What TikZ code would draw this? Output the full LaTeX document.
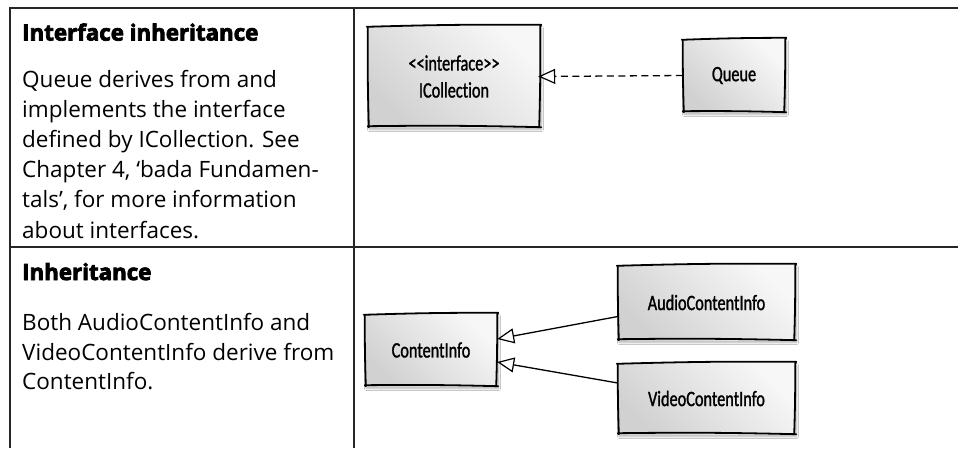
\documentclass[tikz,border=0pt]{standalone}
\usepackage{fontspec}
\setmainfont{Open Sans}
\newfontfamily\headfont[FakeBold=3.5]{Open Sans}
\newfontfamily\handfont[FakeStretch=0.74, FakeBold=1.2, Ligatures=NoCommon]{Carlito}
\usetikzlibrary{arrows.meta,shadows.blur}

\tikzset{
  rule/.style={draw=black!85, line width=2pt},
  head/.style={font=\headfont\bfseries\fontsize{22.3}{26}\selectfont, inner sep=0pt, anchor=base west},
  body/.style={font=\fontsize{22.5}{26}\selectfont, inner sep=0pt, anchor=base west},
  umlbox/.style={
    draw=none, shape=rectangle, inner sep=0pt,
    left color=black!18, right color=black!3, shading angle=135,
    blur shadow={shadow xshift=1.5pt, shadow yshift=-2.5pt, shadow opacity=30,
                 shadow blur steps=6, shadow blur radius=2pt},
    font=\handfont\fontsize{22}{27}\selectfont, align=center},
  sketch/.style={draw=black, line width=1.8pt, line join=round, line cap=round},
  link/.style={draw=black, line width=1.3pt},
  realize/.style={link, dash pattern=on 7pt off 4.5pt,
    -{Triangle[open, length=17pt, width=15pt, fill=white, line width=1.2pt]}},
  inherit/.style={link,
    -{Triangle[open, length=17pt, width=15pt, fill=white, line width=1.2pt]}},
}

% slightly wobbly hand-drawn outline around a named node
\newcommand\sketchoutline[1]{%
  \draw[sketch]
    ([shift={(-1,1)}]#1.north west) to[bend left=1]
    ([shift={(1,-1)}]#1.north east) --
    ([shift={(0,1)}]#1.north east) to[bend left=1]
    ([shift={(-1,0)}]#1.south east) --
    ([shift={(1,0)}]#1.south east) to[bend right=1]
    ([shift={(0,-1)}]#1.south west) --
    ([shift={(1,0)}]#1.south west) to[bend left=1]
    ([shift={(0,1)}]#1.north west);}

\begin{document}
\begin{tikzpicture}[x=1pt, y=-1pt]
\useasboundingbox (0,0) rectangle (958,448);
\fill[white] (0,0) rectangle (958,448);

% table rules
\draw[rule] (9.5,8) -- (958,8);
\draw[rule] (9.5,7) -- (9.5,448);
\draw[rule] (354,7) -- (354,448);
\draw[rule] (9.5,247) -- (958,247);

% left column: descriptions
\node[head] (h1) at (22,40.5) {Interface inheritance};
\node[body] (b1a) at (22,87) {Queue derives from and};
\node[body] (b1b) at (22,117.2) {implements the interface};
\node[body] (b1c) at (22,147.4) {defined by ICollection. See};
\node[body] (b1d) at (22,177.6) {Chapter 4, ‘bada Fundamen-};
\node[body] (b1e) at (22,207.8) {tals’, for more information};
\node[body] (b1f) at (22,238) {about interfaces.};

\node[head] (h2) at (22,280) {Inheritance};
\node[body] (b2a) at (22,330) {Both AudioContentInfo and};
\node[body] (b2b) at (22,360) {VideoContentInfo derive from};
\node[body] (b2c) at (22,389.5) {ContentInfo.};

% right column: class boxes
\node[umlbox, minimum width=172pt, minimum height=101pt] (icoll) at (454,76.5)
  {<<interface>>\\ICollection};
\node[umlbox, minimum width=102pt, minimum height=73pt] (queue) at (734,75.5) {Queue};

\node[umlbox, minimum width=132pt, minimum height=72pt] (cinfo) at (431,350) {ContentInfo};
\node[umlbox, minimum width=177pt, minimum height=75pt] (audio) at (706.5,302.5) {AudioContentInfo};
\node[umlbox, minimum width=177pt, minimum height=71pt] (video) at (706.5,398.5) {VideoContentInfo};

\sketchoutline{icoll}
\sketchoutline{queue}
\sketchoutline{cinfo}
\sketchoutline{audio}
\sketchoutline{video}

% connectors
\draw[realize] (queue.west) -- ([xshift=-2pt]icoll.east);
\draw[inherit] ([yshift=-14pt]audio.west) -- ([yshift=11pt]cinfo.east);
\draw[inherit] ([yshift=15.5pt]video.west) -- ([yshift=-12pt]cinfo.east);
\end{tikzpicture}
\end{document}
